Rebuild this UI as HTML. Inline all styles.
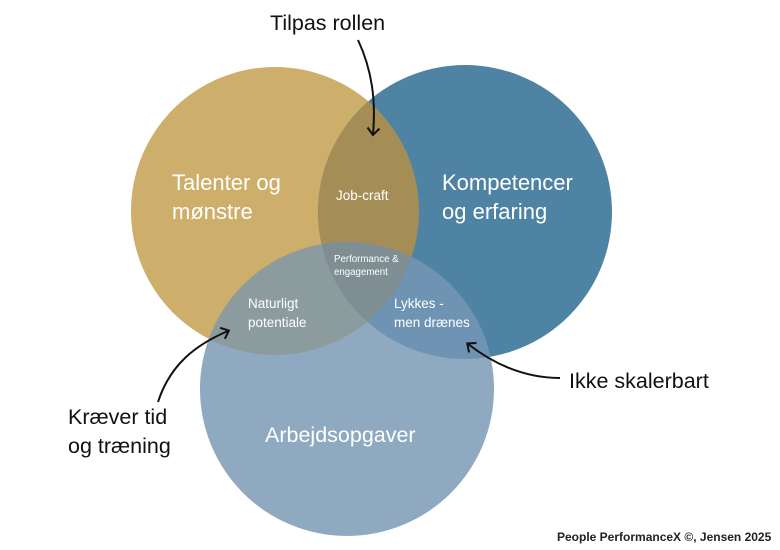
<!DOCTYPE html>
<html><head><meta charset="utf-8"><style>
html,body{margin:0;padding:0;background:#fff;}
svg{display:block;font-family:"Liberation Sans",sans-serif;}
</style></head><body>
<svg width="780" height="550" viewBox="0 0 780 550" xmlns="http://www.w3.org/2000/svg">
<defs>
<clipPath id="cg"><circle cx="275" cy="211" r="144"/></clipPath>
<clipPath id="cb"><circle cx="465" cy="212" r="147"/></clipPath>
<clipPath id="cl"><circle cx="347" cy="389" r="147"/></clipPath>
<marker id="ah" markerWidth="14" markerHeight="14" refX="7" refY="7" orient="auto" markerUnits="userSpaceOnUse">
<path d="M1,1 L8,7 L1,13" fill="none" stroke="#111" stroke-width="2"/>
</marker>
</defs>
<rect width="780" height="550" fill="#fff"/>
<circle cx="275" cy="211" r="144" fill="#CDAE6A"/>
<circle cx="465" cy="212" r="147" fill="#4E83A4"/>
<g clip-path="url(#cg)"><circle cx="465" cy="212" r="147" fill="#A48E56"/></g>
<circle cx="347" cy="389" r="147" fill="#8FA9C1"/>
<g clip-path="url(#cl)">
<circle cx="275" cy="211" r="144" fill="#8B9B9E"/>
<circle cx="465" cy="212" r="147" fill="#6F93B3"/>
<g clip-path="url(#cg)"><circle cx="465" cy="212" r="147" fill="#7E8E93"/></g>
</g>
<g fill="#fff">
<text x="172" y="190" font-size="22">Talenter og</text>
<text x="172" y="219" font-size="22">mønstre</text>
<text x="442" y="190" font-size="22">Kompetencer</text>
<text x="442" y="219" font-size="22">og erfaring</text>
<text x="265" y="442" font-size="21.5">Arbejdsopgaver</text>
<text x="336" y="200" font-size="13.5">Job-craft</text>
<text x="334" y="262" font-size="9.7">Performance &amp;</text>
<text x="334" y="275" font-size="9.7">engagement</text>
<text x="248" y="308" font-size="13.5">Naturligt</text>
<text x="248" y="327" font-size="13.5">potentiale</text>
<text x="394" y="308" font-size="13.5">Lykkes -</text>
<text x="394" y="327" font-size="13.5">men drænes</text>
</g>
<g fill="#111" font-size="21.5">
<text x="270" y="30">Tilpas rollen</text>
<text x="569" y="388">Ikke skalerbart</text>
<text x="68" y="424">Kræver tid</text>
<text x="68" y="453">og træning</text>
</g>
<g fill="none" stroke="#111" stroke-width="2">
<path d="M358,40 C372,70 376,100 373,134" marker-end="url(#ah)"/>
<path d="M158,402 C170,365 195,345 228,331" marker-end="url(#ah)"/>
<path d="M560,378 C525,378 495,365 468,344" marker-end="url(#ah)"/>
</g>
<text x="557" y="541" font-size="12" font-weight="bold" fill="#222">People PerformanceX ©, Jensen 2025</text>
</svg>
</body></html>
